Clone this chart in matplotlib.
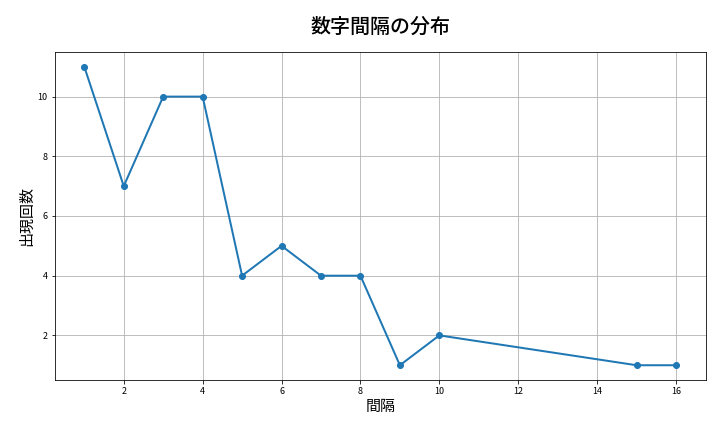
import matplotlib
matplotlib.use("Agg")
import matplotlib.pyplot as plt

plt.rcParams['font.family'] = ['Noto Sans CJK JP', 'DejaVu Sans']

intervals = [1, 2, 3, 4, 5, 6, 7, 8, 9, 10, 15, 16]
counts = [11, 7, 10, 10, 4, 5, 4, 4, 1, 2, 1, 1]

fig, ax = plt.subplots(figsize=(10, 6), dpi=72)
fig.subplots_adjust(left=0.076, right=0.98, top=0.88, bottom=0.12)
ax.plot(intervals, counts, marker='o', linewidth=2, markersize=6, color='#1f77b4')
ax.set_title('数字間隔の分布', fontsize=20, pad=19, fontweight='medium')
ax.set_xlabel('間隔', fontsize=15)
ax.set_ylabel('出現回数', fontsize=15)
ax.grid(True)
ax.tick_params(labelsize=9)
fig.savefig('out.png', dpi=72)
